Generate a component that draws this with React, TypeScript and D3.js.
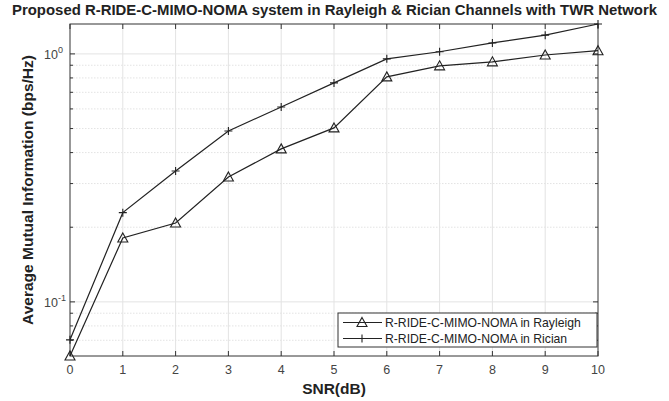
import React, { useEffect, useRef } from 'react';
import * as d3 from 'd3';

const snr = [0, 1, 2, 3, 4, 5, 6, 7, 8, 9, 10];
const rayleigh = [0.0605, 0.181, 0.208, 0.319, 0.414, 0.503, 0.808, 0.895, 0.929, 0.99, 1.03];
const rician = [0.0703, 0.229, 0.337, 0.489, 0.611, 0.764, 0.955, 1.02, 1.107, 1.19, 1.32];
const seriesNames = ['R-RIDE-C-MIMO-NOMA in Rayleigh', 'R-RIDE-C-MIMO-NOMA in Rician'];
const yMajorTicks = [0.1, 1];
const yMinorTicks = [0.07, 0.08, 0.09, 0.2, 0.3, 0.4, 0.5, 0.6, 0.7, 0.8, 0.9];
const titleText = 'Proposed R-RIDE-C-MIMO-NOMA system in Rayleigh & Rician Channels with TWR Network';

const App: React.FC = () => {
  const svgRef = useRef<SVGSVGElement | null>(null);

  useEffect(() => {
    if (!svgRef.current) return;
    const svg = d3.select(svgRef.current);
    svg.selectAll('*').remove();

    const width = 669;
    const height = 401;
    const margin = { top: 24, right: 71, bottom: 45, left: 70 };
    const axisColor = '#333';
    const gridColor = '#e3e3e3';
    const font = '"Liberation Sans", Arial, sans-serif';

    svg.attr('width', width).attr('height', height).style('font-family', font);
    svg.append('rect').attr('width', width).attr('height', height).attr('fill', '#fff');

    const x = d3.scaleLinear().domain([0, 10]).range([margin.left, width - margin.right]);
    const y = d3.scaleLog()
      .domain([rayleigh[0], rician[rician.length - 1]])
      .range([height - margin.bottom, margin.top]);

    const x0 = margin.left, x1 = width - margin.right;
    const y0 = height - margin.bottom, y1 = margin.top;

    // grid
    const grid = svg.append('g');
    snr.slice(1, -1).forEach(v => {
      grid.append('line').attr('x1', x(v)).attr('x2', x(v)).attr('y1', y0).attr('y2', y1)
        .attr('stroke', gridColor).attr('stroke-width', 1);
    });
    [...yMajorTicks, ...yMinorTicks].forEach(v => {
      grid.append('line').attr('x1', x0).attr('x2', x1).attr('y1', y(v)).attr('y2', y(v))
        .attr('stroke', gridColor).attr('stroke-width', 1)
        .attr('stroke-dasharray', yMinorTicks.includes(v) ? '1.5,1.5' : null);
    });

    // box
    svg.append('rect').attr('x', x0).attr('y', y1).attr('width', x1 - x0).attr('height', y0 - y1)
      .attr('fill', 'none').attr('stroke', axisColor).attr('stroke-width', 1);

    // ticks
    const ticks = svg.append('g').attr('stroke', axisColor).attr('stroke-width', 1);
    snr.forEach(v => {
      ticks.append('line').attr('x1', x(v)).attr('x2', x(v)).attr('y1', y0).attr('y2', y0 - 5);
      ticks.append('line').attr('x1', x(v)).attr('x2', x(v)).attr('y1', y1).attr('y2', y1 + 5);
    });
    yMajorTicks.forEach(v => {
      ticks.append('line').attr('x1', x0).attr('x2', x0 + 5).attr('y1', y(v)).attr('y2', y(v));
      ticks.append('line').attr('x1', x1).attr('x2', x1 - 5).attr('y1', y(v)).attr('y2', y(v));
    });
    yMinorTicks.forEach(v => {
      ticks.append('line').attr('x1', x0).attr('x2', x0 + 3).attr('y1', y(v)).attr('y2', y(v));
      ticks.append('line').attr('x1', x1).attr('x2', x1 - 3).attr('y1', y(v)).attr('y2', y(v));
    });

    // tick labels
    snr.forEach(v => {
      svg.append('text').attr('x', x(v)).attr('y', y0 + 18).attr('text-anchor', 'middle')
        .attr('font-size', 12.5).attr('fill', '#444').text(String(v));
    });
    yMajorTicks.forEach(v => {
      const t = svg.append('text').attr('x', x0 - 26).attr('y', y(v) + 5).attr('text-anchor', 'start')
        .attr('font-size', 12.5).attr('fill', '#444');
      t.append('tspan').text('10');
      t.append('tspan').attr('dy', -6).attr('font-size', 9).text(String(Math.round(Math.log10(v))));
    });

    // lines
    const line = d3.line<number>().x((_, i) => x(snr[i])).y(d => y(d));
    svg.append('path').datum(rayleigh).attr('d', line).attr('fill', 'none')
      .attr('stroke', '#222').attr('stroke-width', 1.2);
    svg.append('path').datum(rician).attr('d', line).attr('fill', 'none')
      .attr('stroke', '#222').attr('stroke-width', 1.2);

    const tri = (cx: number, cy: number) => `M${cx},${cy - 5}L${cx + 5},${cy + 4}L${cx - 5},${cy + 4}Z`;
    const plus = (cx: number, cy: number) => `M${cx - 4},${cy}H${cx + 4}M${cx},${cy - 4}V${cy + 4}`;

    svg.append('g').selectAll('path').data(rayleigh).enter().append('path')
      .attr('d', (d, i) => tri(x(snr[i]), y(d))).attr('fill', 'none')
      .attr('stroke', '#222').attr('stroke-width', 1.1);
    svg.append('g').selectAll('path').data(rician).enter().append('path')
      .attr('d', (d, i) => plus(x(snr[i]), y(d))).attr('fill', 'none')
      .attr('stroke', '#222').attr('stroke-width', 1.1);

    // legend
    const lx = 338, ly = 313, lw = 259, lh = 34;
    svg.append('rect').attr('x', lx).attr('y', ly).attr('width', lw).attr('height', lh)
      .attr('fill', '#fff').attr('stroke', axisColor).attr('stroke-width', 1);
    seriesNames.forEach((name, i) => {
      const cy = ly + 9.5 + i * 16;
      svg.append('line').attr('x1', lx + 5).attr('x2', lx + 44).attr('y1', cy).attr('y2', cy)
        .attr('stroke', '#222').attr('stroke-width', 1.2);
      svg.append('path').attr('d', i === 0 ? tri(lx + 24, cy) : plus(lx + 24, cy))
        .attr('fill', 'none').attr('stroke', '#222').attr('stroke-width', 1.1);
      svg.append('text').attr('x', lx + 47).attr('y', cy + 4.5).attr('font-size', 12.2)
        .attr('fill', '#222').text(name);
    });

    // title and axis labels
    svg.append('text').attr('x', width / 2).attr('y', 15).attr('text-anchor', 'middle')
      .attr('font-size', 14.5).attr('font-weight', 'bold').attr('fill', '#222')
      .attr('textLength', 645).attr('lengthAdjust', 'spacingAndGlyphs').text(titleText);
    svg.append('text').attr('x', (x0 + x1) / 2).attr('y', 394).attr('text-anchor', 'middle')
      .attr('font-size', 15.5).attr('font-weight', 'bold').attr('fill', '#222').text('SNR(dB)');
    svg.append('text').attr('transform', `translate(33,${(y0 + y1) / 2}) rotate(-90)`)
      .attr('text-anchor', 'middle').attr('font-size', 15.5).attr('font-weight', 'bold')
      .attr('fill', '#222').text('Average Mutual Information (bps/Hz)');
  }, []);

  return <svg ref={svgRef} style={{ position: 'absolute', left: 0, top: 0 }}></svg>;
};

export default App;
